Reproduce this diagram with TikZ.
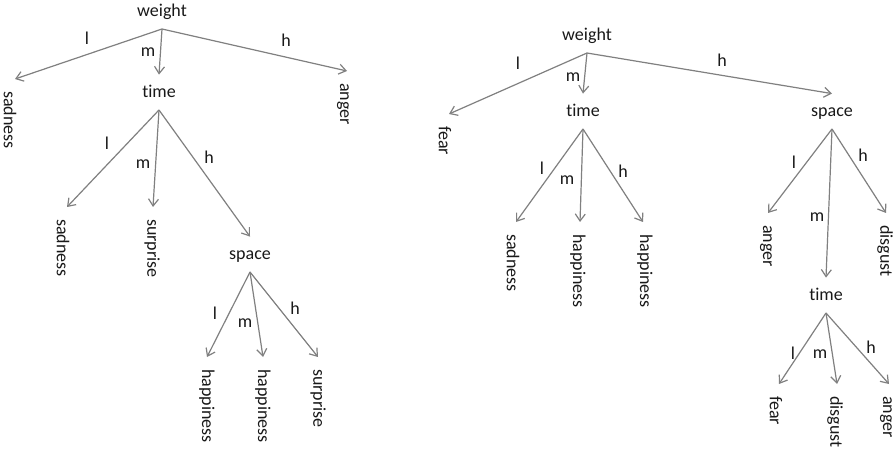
\documentclass[tikz,border=0pt]{standalone}
\usepackage{fontspec}
\setmainfont{Carlito}[Ligatures=NoCommon]
\usetikzlibrary{arrows.meta}
\definecolor{edgegray}{RGB}{128,128,128}
\definecolor{inkdark}{RGB}{25,25,25}
\begin{document}
\begin{tikzpicture}[x=1pt,y=-1pt,
  font=\fontsize{18}{21}\selectfont,
  attr/.style={anchor=south, inner xsep=0pt, inner ysep=8pt,
    text height=15pt, text depth=4pt, text=inkdark},
  leaf/.style={rotate=-90, anchor=west, inner xsep=12pt, inner ysep=0pt, text=inkdark},
  branch/.style={draw=edgegray, line width=1.2pt,
    -{Straight Barb[length=7pt,width=10pt]}},
  lab/.style={inner sep=0pt, text=inkdark}]
\fill[white] (0,0) rectangle (895,449);
\useasboundingbox (0,0) rectangle (895,449);

% ---------- first tree ----------
\node[attr] (w1) at (162,29) {weight};
\node[leaf] (sa1) at (10,79) {sadness};
\node[attr] (t1) at (159,110) {time};
\node[leaf] (an1) at (343,71) {anger};
\draw[branch] (w1.south) -- ([xshift=5pt]sa1.west);
\draw[branch] (w1.south) -- (t1.north);
\draw[branch] (w1.south) -- ([xshift=4pt]an1.west);
\node[lab] (w1l) at (87,38) {l};
\node[lab] (w1m) at (148,52) {m};
\node[lab] (w1h) at (286,40) {h};

\node[leaf] (sa2) at (63,207) {sadness};
\node[leaf] (su1) at (152,207) {surprise};
\node[attr] (sp1) at (250,272) {space};
\draw[branch] (t1.south) -- ([xshift=4pt]sa2.west);
\draw[branch] (t1.south) -- ([xshift=1pt]su1.west);
\draw[branch] (t1.south) -- (sp1.north);
\node[lab] (t1l) at (107,143) {l};
\node[lab] (t1m) at (143,164) {m};
\node[lab] (t1h) at (209,157) {h};

\node[leaf] (ha1) at (207,357) {happiness};
\node[leaf] (ha2) at (263,357) {happiness};
\node[leaf] (su2) at (318,357) {surprise};
\draw[branch] (sp1.south) -- (ha1.west);
\draw[branch] (sp1.south) -- (ha2.west);
\draw[branch] (sp1.south) -- (su2.west);
\node[lab] (sp1l) at (215,313) {l};
\node[lab] (sp1m) at (245,323) {m};
\node[lab] (sp1h) at (295,308) {h};

% ---------- second tree ----------
\node[attr] (w2) at (587,53) {weight};
\node[leaf] (fe1) at (445,114) {fear};
\node[attr] (t2) at (583,129) {time};
\node[attr] (sp2) at (832,129) {space};
\draw[branch] (w2.south) -- ([xshift=4pt]fe1.west);
\draw[branch] (w2.south) -- (t2.north);
\draw[branch] (w2.south) -- (sp2.north);
\node[lab] (w2l) at (518,63) {l};
\node[lab] (w2m) at (573,77) {m};
\node[lab] (w2h) at (722,60) {h};

\node[leaf] (sa3) at (513,222) {sadness};
\node[leaf] (ha3) at (578,222) {happiness};
\node[leaf] (ha4) at (645,222) {happiness};
\draw[branch] (t2.south) -- ([xshift=3pt]sa3.west);
\draw[branch] (t2.south) -- ([xshift=2pt]ha3.west);
\draw[branch] (t2.south) -- ([xshift=-2pt]ha4.west);
\node[lab] (t2l) at (542,168) {l};
\node[lab] (t2m) at (567,180) {m};
\node[lab] (t2h) at (623,171) {h};

\node[leaf] (an2) at (766,213) {anger};
\node[attr] (t3) at (826,313) {time};
\node[leaf] (di1) at (885,213) {disgust};
\draw[branch] (sp2.south) -- ([xshift=2pt]an2.west);
\draw[branch] (sp2.south) -- (t3.north);
\draw[branch] (sp2.south) -- ([xshift=1pt]di1.west);
\node[lab] (sp2l) at (794,162) {l};
\node[lab] (sp2m) at (817,217) {m};
\node[lab] (sp2h) at (863,155) {h};

\node[leaf] (fe2) at (776,384) {fear};
\node[leaf] (di2) at (835,384) {disgust};
\node[leaf] (an3) at (886,384) {anger};
\draw[branch] (t3.south) -- ([xshift=3pt]fe2.west);
\draw[branch] (t3.south) -- ([xshift=2pt]di2.west);
\draw[branch] (t3.south) -- ([xshift=3pt]an3.west);
\node[lab] (t3l) at (793,353) {l};
\node[lab] (t3m) at (820,354) {m};
\node[lab] (t3h) at (871,347) {h};
\end{tikzpicture}
\end{document}
